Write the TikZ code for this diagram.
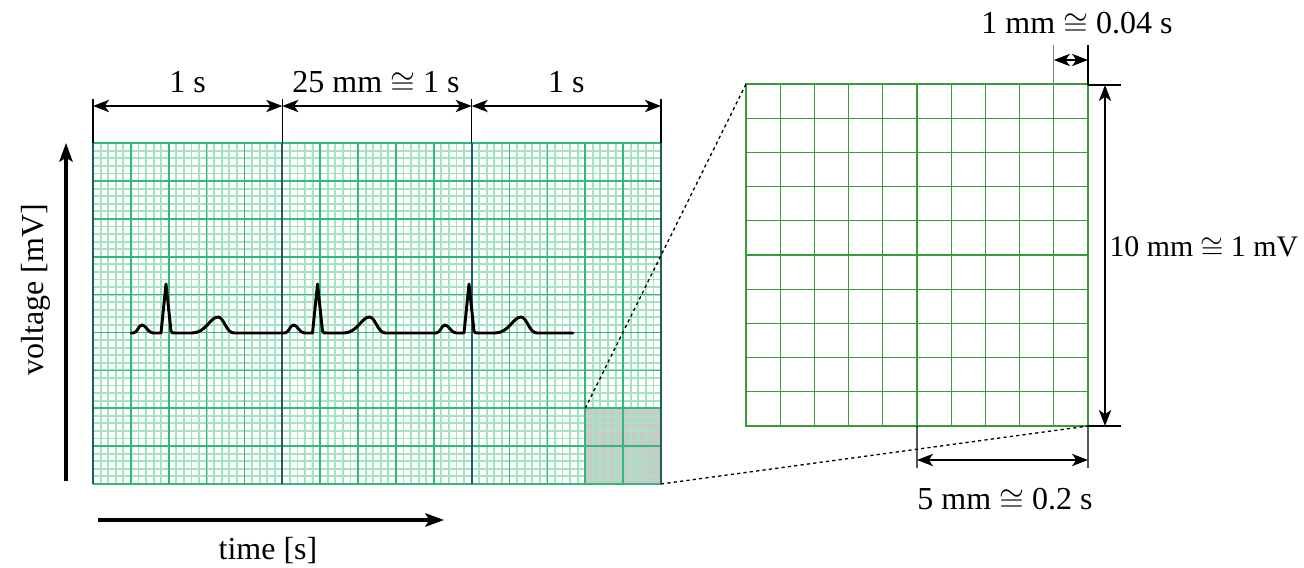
\documentclass[tikz,border=0pt]{standalone}
\usepackage{fontspec}
\setmainfont{Liberation Serif}
\usepackage{amsmath}
\usepackage{amssymb}
\usetikzlibrary{arrows.meta}
\definecolor{finegrid}{HTML}{A4E3C6}
\definecolor{midgrid}{HTML}{33B87A}
\definecolor{majgrid}{HTML}{1E5E5E}
\definecolor{zoomgrid}{HTML}{3A9A3A}
\newcommand{\apx}{$\cong$}

\begin{document}
\begin{tikzpicture}[x=0.375pt,y=-0.375pt,
  every node/.style={font=\fontsize{12}{14}\selectfont,inner sep=0pt},
  dimline/.style={line width=0.75pt,{Stealth[length=6pt,width=4.6pt,inset=1.6pt]}-{Stealth[length=6pt,width=4.6pt,inset=1.6pt]}},
  extline/.style={line width=0.4pt},
  axisarrow/.style={line width=1.2pt,-{Stealth[length=7pt,width=5pt,inset=1.5pt]}},
  zoomlink/.style={dash pattern=on 1.2pt off 1.2pt,line width=0.5pt},
  ecgtrace/.style={line width=1.1pt,line join=round,line cap=round}]
\useasboundingbox (0,0) rectangle (1304,568);
% objects at depth 100: ECG paper, 1 unit = 1 mm
\begin{scope}[shift={(93,484)},x=2.84pt,y=2.84pt]
\fill[black!21] (65,0) rectangle (75,10);
\foreach \i in {0,...,75} \draw[finegrid,line width=0.7pt] (\i,0) -- (\i,45);
\foreach \j in {0,...,45} \draw[finegrid,line width=0.7pt] (0,\j) -- (75,\j);
\foreach \i in {5,10,...,70} \draw[midgrid,line width=0.6pt] (\i,0) -- (\i,45);
\foreach \j in {0,5,...,45} \draw[midgrid,line width=0.6pt] (0,\j) -- (75,\j);
\foreach \i in {0,25,50,75} \draw[majgrid,line width=0.8pt] (\i,0) -- (\i,45);
\coordinate (sq-tl) at (65,10);
\coordinate (sq-br) at (75,0);
\end{scope}
% objects at depth 100: magnified 10 mm square
\begin{scope}[shift={(746,426)},x=12.825pt,y=12.825pt]
\foreach \i in {1,...,9} \draw[zoomgrid,line width=0.5pt] (\i,0) -- (\i,10);
\foreach \j in {1,...,9} \draw[zoomgrid,line width=0.5pt] (0,\j) -- (10,\j);
\draw[zoomgrid,line width=0.8pt] (5,0) -- (5,10) (0,5) -- (10,5);
\draw[zoomgrid,line width=0.9pt] (0,0) rectangle (10,10);
\coordinate (zm-tl) at (0,10);
\coordinate (zm-br) at (10,0);
\end{scope}
% objects at depth 50: trace
\foreach \s/\e in {166/282.5,317.5/434,469/573}
  \draw[ecgtrace] ({\s-35},333) -- ({\s-33},333)
    .. controls ({\s-28},333) and ({\s-28},325) .. ({\s-24},325)
    .. controls ({\s-20},325) and ({\s-18},333) .. ({\s-13},333)
    -- ({\s-5},333) -- (\s,284) -- ({\s+5},331)
    .. controls ({\s+6},333) .. ({\s+9},333) -- ({\s+26},333)
    .. controls ({\s+40},333) and ({\s+44},317) .. ({\s+52},317)
    .. controls ({\s+58},317) and ({\s+60},333) .. ({\s+68},333) -- (\e,333);
\draw[zoomlink] (sq-tl) -- (zm-tl);
\draw[zoomlink] (sq-br) -- (zm-br);
% objects at depth 10: dimensions
\coordinate (t0) at (93,143);   \coordinate (t0e) at (93,99);   \coordinate (d0) at (93,106);
\coordinate (t1) at (282.3,143);\coordinate (t1e) at (282.3,99);\coordinate (d1) at (282.3,106);
\coordinate (t2) at (471.7,143);\coordinate (t2e) at (471.7,99);\coordinate (d2) at (471.7,106);
\coordinate (t3) at (661,143);  \coordinate (t3e) at (661,99);  \coordinate (d3) at (661,106);
\draw[extline] (t0) -- (t0e) (t1) -- (t1e) (t2) -- (t2e) (t3) -- (t3e);
\draw[dimline] (d0) -- (d1);
\draw[dimline] (d1) -- (d2);
\draw[dimline] (d2) -- (d3);
\node[anchor=base] (lab-s1) at (187.6,93) {1 s};
\node[anchor=base] (lab-25) at (376,93) {25 mm \apx{} 1 s};
\node[anchor=base] (lab-s3) at (566.3,93) {1 s};
% 1 mm
\coordinate (m0) at (1053.8,85); \coordinate (m0e) at (1053.8,45); \coordinate (dm0) at (1053.8,60);
\coordinate (m1) at (1088,85);   \coordinate (m1e) at (1088,45);   \coordinate (dm1) at (1088,60);
\draw[extline,gray] (m0) -- (m0e);
\draw[extline] (m1) -- (m1e);
\draw[dimline] (dm0) -- (dm1);
\node[anchor=base] (lab-1mm) at (1077,34) {1 mm \apx{} 0.04 s};
% 10 mm
\coordinate (v1e) at (1121,85);  \coordinate (dv1) at (1105,85);
\coordinate (v0e) at (1121,426); \coordinate (dv0) at (1105,426);
\draw[extline] (m1) -- (v1e) (zm-br) -- (v0e);
\draw[dimline] (dv0) -- (dv1);
\node[anchor=base west,font=\fontsize{11.2}{13}\selectfont] (lab-10mm) at (1109,257) {10 mm \apx{} 1 mV};
% 5 mm
\coordinate (h0) at (917,426);  \coordinate (h0e) at (917,468);  \coordinate (dh0) at (917,460);
\coordinate (h1e) at (1088,468); \coordinate (dh1) at (1088,460);
\draw[extline] (h0) -- (h0e) (zm-br) -- (h1e);
\draw[dimline] (dh0) -- (dh1);
\node[anchor=base] (lab-5mm) at (1005,510) {5 mm \apx{} 0.2 s};
% axes
\coordinate (va) at (66,481); \coordinate (vb) at (66,143);
\coordinate (ta) at (98,520); \coordinate (tb) at (444,520);
\draw[axisarrow] (va) -- (vb);
\draw[axisarrow] (ta) -- (tb);
\node[anchor=base,rotate=90] (lab-volt) at (43,290) {voltage [mV]};
\node[anchor=base] (lab-time) at (268,559) {time [s]};
\end{tikzpicture}
\end{document}
